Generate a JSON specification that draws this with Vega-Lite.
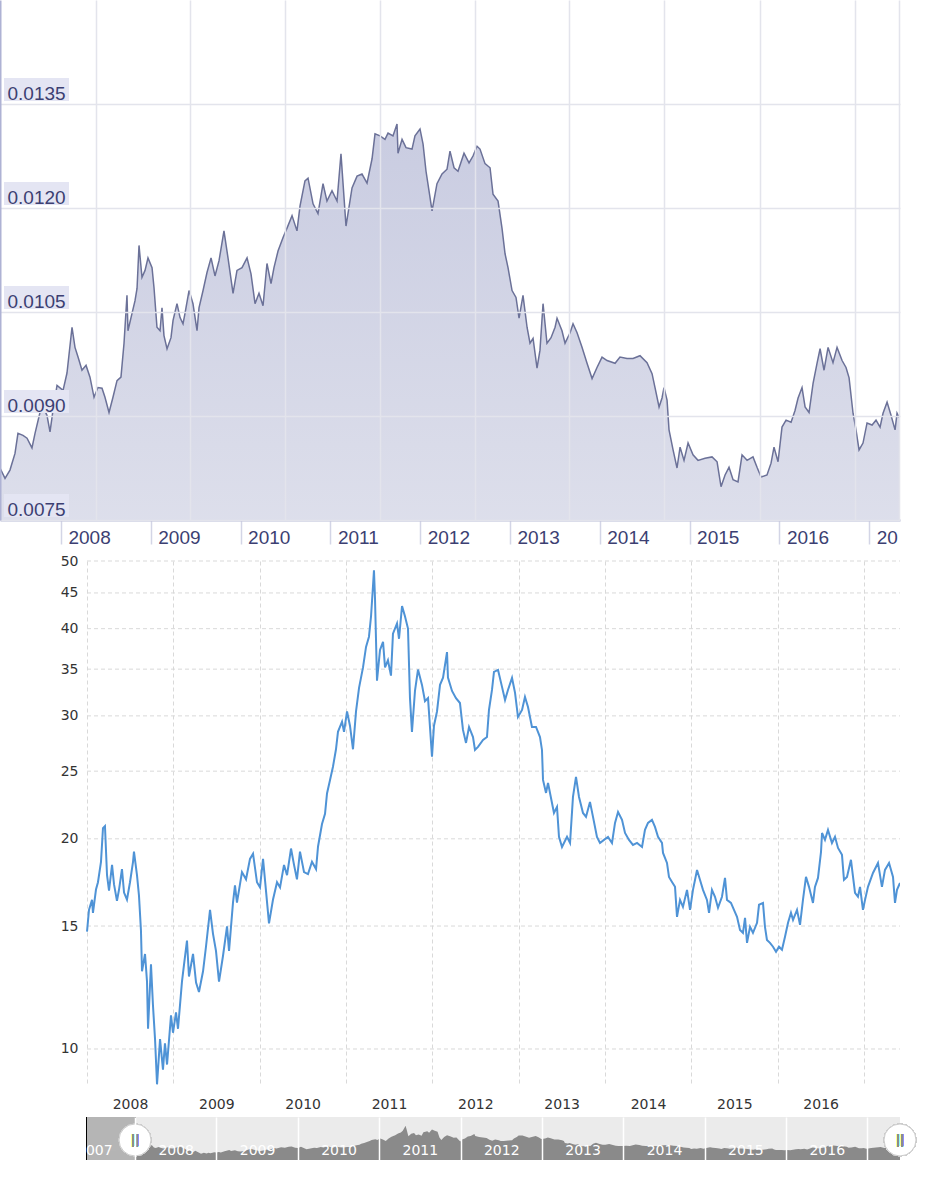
{
"$schema": "https://vega.github.io/schema/vega-lite/v6.json",
"padding": 0,
"background": "white",
"config": {"view": {"stroke": null}, "axis": {"labelFlush": false, "labelOverlap": false}},
"datasets": {
"jpy": [
{"year":2007.321,"rate":0.00825},{"year":2007.377,"rate":0.00810},{"year":2007.432,"rate":0.00822},{"year":2007.488,"rate":0.00846},{"year":2007.521,"rate":0.00875},{"year":2007.577,"rate":0.00872},{"year":2007.622,"rate":0.00868},{"year":2007.677,"rate":0.00854},{"year":2007.711,"rate":0.00875},{"year":2007.766,"rate":0.00905},{"year":2007.800,"rate":0.00913},{"year":2007.844,"rate":0.00901},{"year":2007.878,"rate":0.00877},{"year":2007.911,"rate":0.00908},{"year":2007.956,"rate":0.00944},{"year":2008.023,"rate":0.00937},{"year":2008.067,"rate":0.00962},{"year":2008.123,"rate":0.01028},{"year":2008.156,"rate":0.00999},{"year":2008.190,"rate":0.00985},{"year":2008.234,"rate":0.00966},{"year":2008.279,"rate":0.00973},{"year":2008.323,"rate":0.00956},{"year":2008.368,"rate":0.00927},{"year":2008.412,"rate":0.00941},{"year":2008.457,"rate":0.00940},{"year":2008.490,"rate":0.00927},{"year":2008.535,"rate":0.00905},{"year":2008.579,"rate":0.00927},{"year":2008.624,"rate":0.00951},{"year":2008.668,"rate":0.00956},{"year":2008.702,"rate":0.01005},{"year":2008.735,"rate":0.01074},{"year":2008.746,"rate":0.01023},{"year":2008.791,"rate":0.01048},{"year":2008.824,"rate":0.01066},{"year":2008.847,"rate":0.01084},{"year":2008.869,"rate":0.01146},{"year":2008.902,"rate":0.01100},{"year":2008.936,"rate":0.01110},{"year":2008.969,"rate":0.01128},{"year":2009.014,"rate":0.01114},{"year":2009.036,"rate":0.01085},{"year":2009.069,"rate":0.01028},{"year":2009.103,"rate":0.01023},{"year":2009.125,"rate":0.01056},{"year":2009.147,"rate":0.01016},{"year":2009.181,"rate":0.00997},{"year":2009.225,"rate":0.01013},{"year":2009.248,"rate":0.01038},{"year":2009.292,"rate":0.01062},{"year":2009.326,"rate":0.01042},{"year":2009.359,"rate":0.01033},{"year":2009.381,"rate":0.01048},{"year":2009.426,"rate":0.01081},{"year":2009.470,"rate":0.01062},{"year":2009.515,"rate":0.01023},{"year":2009.537,"rate":0.01056},{"year":2009.582,"rate":0.01081},{"year":2009.626,"rate":0.01107},{"year":2009.671,"rate":0.01128},{"year":2009.715,"rate":0.01102},{"year":2009.760,"rate":0.01124},{"year":2009.815,"rate":0.01167},{"year":2009.860,"rate":0.01128},{"year":2009.916,"rate":0.01077},{"year":2009.960,"rate":0.01110},{"year":2010.016,"rate":0.01114},{"year":2010.072,"rate":0.01128},{"year":2010.116,"rate":0.01105},{"year":2010.161,"rate":0.01062},{"year":2010.205,"rate":0.01077},{"year":2010.250,"rate":0.01059},{"year":2010.294,"rate":0.01120},{"year":2010.339,"rate":0.01091},{"year":2010.372,"rate":0.01114},{"year":2010.417,"rate":0.01138},{"year":2010.472,"rate":0.01157},{"year":2010.517,"rate":0.01171},{"year":2010.573,"rate":0.01189},{"year":2010.628,"rate":0.01167},{"year":2010.662,"rate":0.01203},{"year":2010.717,"rate":0.01239},{"year":2010.751,"rate":0.01243},{"year":2010.807,"rate":0.01206},{"year":2010.862,"rate":0.01192},{"year":2010.918,"rate":0.01235},{"year":2010.962,"rate":0.01210},{"year":2011.018,"rate":0.01225},{"year":2011.074,"rate":0.01210},{"year":2011.118,"rate":0.01278},{"year":2011.174,"rate":0.01174},{"year":2011.241,"rate":0.01229},{"year":2011.297,"rate":0.01246},{"year":2011.352,"rate":0.01249},{"year":2011.408,"rate":0.01236},{"year":2011.464,"rate":0.01271},{"year":2011.497,"rate":0.01307},{"year":2011.553,"rate":0.01304},{"year":2011.608,"rate":0.01299},{"year":2011.642,"rate":0.01308},{"year":2011.697,"rate":0.01304},{"year":2011.742,"rate":0.01321},{"year":2011.753,"rate":0.01279},{"year":2011.798,"rate":0.01299},{"year":2011.842,"rate":0.01287},{"year":2011.909,"rate":0.01285},{"year":2011.942,"rate":0.01304},{"year":2011.998,"rate":0.01314},{"year":2012.032,"rate":0.01292},{"year":2012.065,"rate":0.01253},{"year":2012.098,"rate":0.01225},{"year":2012.132,"rate":0.01196},{"year":2012.187,"rate":0.01235},{"year":2012.243,"rate":0.01249},{"year":2012.299,"rate":0.01256},{"year":2012.332,"rate":0.01282},{"year":2012.377,"rate":0.01258},{"year":2012.421,"rate":0.01253},{"year":2012.488,"rate":0.01279},{"year":2012.544,"rate":0.01265},{"year":2012.588,"rate":0.01275},{"year":2012.633,"rate":0.01289},{"year":2012.666,"rate":0.01285},{"year":2012.722,"rate":0.01264},{"year":2012.778,"rate":0.01258},{"year":2012.811,"rate":0.01220},{"year":2012.867,"rate":0.01210},{"year":2012.911,"rate":0.01171},{"year":2012.945,"rate":0.01134},{"year":2012.978,"rate":0.01114},{"year":2013.023,"rate":0.01081},{"year":2013.067,"rate":0.01071},{"year":2013.101,"rate":0.01041},{"year":2013.145,"rate":0.01074},{"year":2013.190,"rate":0.01028},{"year":2013.223,"rate":0.01005},{"year":2013.257,"rate":0.01012},{"year":2013.301,"rate":0.00969},{"year":2013.334,"rate":0.00995},{"year":2013.368,"rate":0.01062},{"year":2013.412,"rate":0.01005},{"year":2013.457,"rate":0.01013},{"year":2013.502,"rate":0.01028},{"year":2013.524,"rate":0.01041},{"year":2013.579,"rate":0.01023},{"year":2013.613,"rate":0.01005},{"year":2013.669,"rate":0.01020},{"year":2013.702,"rate":0.01033},{"year":2013.747,"rate":0.01020},{"year":2013.802,"rate":0.00999},{"year":2013.858,"rate":0.00976},{"year":2013.914,"rate":0.00954},{"year":2013.969,"rate":0.00970},{"year":2014.025,"rate":0.00985},{"year":2014.081,"rate":0.00980},{"year":2014.170,"rate":0.00976},{"year":2014.225,"rate":0.00985},{"year":2014.303,"rate":0.00983},{"year":2014.370,"rate":0.00983},{"year":2014.448,"rate":0.00987},{"year":2014.526,"rate":0.00977},{"year":2014.582,"rate":0.00961},{"year":2014.615,"rate":0.00941},{"year":2014.660,"rate":0.00913},{"year":2014.693,"rate":0.00926},{"year":2014.715,"rate":0.00941},{"year":2014.749,"rate":0.00923},{"year":2014.771,"rate":0.00880},{"year":2014.816,"rate":0.00851},{"year":2014.860,"rate":0.00825},{"year":2014.894,"rate":0.00855},{"year":2014.938,"rate":0.00836},{"year":2014.983,"rate":0.00861},{"year":2015.038,"rate":0.00844},{"year":2015.094,"rate":0.00836},{"year":2015.172,"rate":0.00839},{"year":2015.250,"rate":0.00841},{"year":2015.306,"rate":0.00834},{"year":2015.350,"rate":0.00798},{"year":2015.395,"rate":0.00815},{"year":2015.439,"rate":0.00826},{"year":2015.484,"rate":0.00808},{"year":2015.539,"rate":0.00805},{"year":2015.584,"rate":0.00844},{"year":2015.640,"rate":0.00836},{"year":2015.706,"rate":0.00841},{"year":2015.751,"rate":0.00826},{"year":2015.796,"rate":0.00812},{"year":2015.862,"rate":0.00815},{"year":2015.907,"rate":0.00832},{"year":2015.940,"rate":0.00855},{"year":2015.985,"rate":0.00834},{"year":2016.029,"rate":0.00884},{"year":2016.074,"rate":0.00894},{"year":2016.130,"rate":0.00891},{"year":2016.174,"rate":0.00908},{"year":2016.208,"rate":0.00926},{"year":2016.252,"rate":0.00941},{"year":2016.286,"rate":0.00913},{"year":2016.330,"rate":0.00905},{"year":2016.375,"rate":0.00947},{"year":2016.419,"rate":0.00976},{"year":2016.453,"rate":0.00997},{"year":2016.497,"rate":0.00966},{"year":2016.542,"rate":0.00999},{"year":2016.597,"rate":0.00977},{"year":2016.642,"rate":0.00999},{"year":2016.698,"rate":0.00980},{"year":2016.742,"rate":0.00970},{"year":2016.776,"rate":0.00955},{"year":2016.820,"rate":0.00904},{"year":2016.853,"rate":0.00880},{"year":2016.887,"rate":0.00851},{"year":2016.931,"rate":0.00861},{"year":2016.976,"rate":0.00890},{"year":2017.032,"rate":0.00887},{"year":2017.076,"rate":0.00894},{"year":2017.121,"rate":0.00884},{"year":2017.154,"rate":0.00904},{"year":2017.199,"rate":0.00920},{"year":2017.243,"rate":0.00901},{"year":2017.288,"rate":0.00880},{"year":2017.310,"rate":0.00904},{"year":2017.332,"rate":0.00898}
],
"silver": [
{"year":2007.41,"price":13.3},{"year":2007.47,"price":13.2},{"year":2007.53,"price":12.8},{"year":2007.58,"price":12.4},{"year":2007.62,"price":11.9},{"year":2007.66,"price":12.3},{"year":2007.72,"price":12.9},{"year":2007.78,"price":13.8},{"year":2007.84,"price":14.6},{"year":2007.86,"price":15.2},{"year":2007.90,"price":14.5},{"year":2007.95,"price":14.3},{"year":2007.98,"price":14.8},
{"year":2008.000,"price":14.73},{"year":2008.023,"price":15.82},{"year":2008.058,"price":16.36},{"year":2008.069,"price":15.66},{"year":2008.104,"price":16.92},{"year":2008.127,"price":17.33},{"year":2008.162,"price":18.54},{"year":2008.185,"price":20.72},{"year":2008.208,"price":20.86},{"year":2008.232,"price":17.74},{"year":2008.255,"price":16.86},{"year":2008.290,"price":18.35},{"year":2008.313,"price":17.21},{"year":2008.347,"price":16.30},{"year":2008.371,"price":16.92},{"year":2008.405,"price":18.10},{"year":2008.429,"price":16.75},{"year":2008.463,"price":16.36},{"year":2008.498,"price":17.33},{"year":2008.533,"price":18.54},{"year":2008.544,"price":19.17},{"year":2008.579,"price":17.74},{"year":2008.602,"price":16.58},{"year":2008.625,"price":14.78},{"year":2008.637,"price":12.92},{"year":2008.672,"price":13.68},{"year":2008.695,"price":12.49},{"year":2008.707,"price":10.69},{"year":2008.741,"price":13.22},{"year":2008.764,"price":11.55},{"year":2008.788,"price":10.33},{"year":2008.811,"price":8.90},{"year":2008.846,"price":10.33},{"year":2008.880,"price":9.34},{"year":2008.903,"price":10.19},{"year":2008.927,"price":9.50},{"year":2008.973,"price":11.17},{"year":2008.996,"price":10.55},{"year":2009.031,"price":11.28},{"year":2009.054,"price":10.69},{"year":2009.100,"price":12.49},{"year":2009.124,"price":13.22},{"year":2009.158,"price":14.30},{"year":2009.181,"price":12.70},{"year":2009.228,"price":13.68},{"year":2009.263,"price":12.45},{"year":2009.297,"price":12.07},{"year":2009.344,"price":12.92},{"year":2009.378,"price":14.01},{"year":2009.425,"price":15.82},{"year":2009.459,"price":14.63},{"year":2009.494,"price":13.82},{"year":2009.529,"price":12.49},{"year":2009.575,"price":13.59},{"year":2009.622,"price":14.98},{"year":2009.645,"price":13.82},{"year":2009.691,"price":16.20},{"year":2009.714,"price":17.15},{"year":2009.737,"price":16.20},{"year":2009.795,"price":17.92},{"year":2009.842,"price":17.50},{"year":2009.888,"price":18.72},{"year":2009.923,"price":19.04},{"year":2009.969,"price":17.33},{"year":2010.004,"price":17.04},{"year":2010.039,"price":18.72},{"year":2010.073,"price":16.86},{"year":2010.108,"price":15.13},{"year":2010.154,"price":16.36},{"year":2010.201,"price":17.33},{"year":2010.236,"price":17.04},{"year":2010.282,"price":18.35},{"year":2010.317,"price":17.74},{"year":2010.363,"price":19.37},{"year":2010.398,"price":18.35},{"year":2010.432,"price":17.50},{"year":2010.467,"price":19.17},{"year":2010.514,"price":17.92},{"year":2010.560,"price":17.80},{"year":2010.606,"price":18.54},{"year":2010.653,"price":18.10},{"year":2010.676,"price":19.50},{"year":2010.722,"price":21.00},{"year":2010.757,"price":21.72},{"year":2010.780,"price":23.23},{"year":2010.815,"price":24.28},{"year":2010.849,"price":25.37},{"year":2010.884,"price":26.87},{"year":2010.907,"price":28.46},{"year":2010.954,"price":29.43},{"year":2010.977,"price":28.46},{"year":2011.012,"price":30.44},{"year":2011.046,"price":29.04},{"year":2011.081,"price":26.87},{"year":2011.116,"price":30.44},{"year":2011.151,"price":32.90},{"year":2011.197,"price":35.20},{"year":2011.232,"price":37.66},{"year":2011.266,"price":38.95},{"year":2011.290,"price":41.67},{"year":2011.313,"price":46.11},{"year":2011.324,"price":48.50},{"year":2011.336,"price":44.13},{"year":2011.359,"price":33.69},{"year":2011.394,"price":37.28},{"year":2011.429,"price":38.30},{"year":2011.452,"price":35.20},{"year":2011.486,"price":36.04},{"year":2011.521,"price":34.26},{"year":2011.544,"price":39.35},{"year":2011.591,"price":40.69},{"year":2011.614,"price":38.69},{"year":2011.649,"price":43.10},{"year":2011.683,"price":41.67},{"year":2011.718,"price":40.01},{"year":2011.741,"price":31.81},{"year":2011.764,"price":28.46},{"year":2011.799,"price":32.57},{"year":2011.834,"price":34.95},{"year":2011.880,"price":33.23},{"year":2011.915,"price":31.49},{"year":2011.950,"price":31.81},{"year":2011.996,"price":26.23},{"year":2012.019,"price":29.04},{"year":2012.054,"price":30.44},{"year":2012.089,"price":33.23},{"year":2012.124,"price":34.03},{"year":2012.170,"price":37.03},{"year":2012.181,"price":34.03},{"year":2012.228,"price":32.57},{"year":2012.274,"price":31.81},{"year":2012.320,"price":31.30},{"year":2012.355,"price":28.64},{"year":2012.390,"price":27.44},{"year":2012.425,"price":28.92},{"year":2012.471,"price":27.98},{"year":2012.494,"price":26.81},{"year":2012.529,"price":27.08},{"year":2012.587,"price":27.71},{"year":2012.633,"price":27.98},{"year":2012.656,"price":30.59},{"year":2012.691,"price":32.68},{"year":2012.714,"price":34.68},{"year":2012.761,"price":34.91},{"year":2012.807,"price":33.01},{"year":2012.842,"price":31.62},{"year":2012.876,"price":32.68},{"year":2012.923,"price":34.00},{"year":2012.958,"price":32.36},{"year":2012.992,"price":29.89},{"year":2013.039,"price":30.59},{"year":2013.073,"price":31.93},{"year":2013.108,"price":30.89},{"year":2013.154,"price":28.92},{"year":2013.201,"price":28.92},{"year":2013.247,"price":27.98},{"year":2013.270,"price":26.81},{"year":2013.282,"price":24.29},{"year":2013.317,"price":23.27},{"year":2013.340,"price":24.05},{"year":2013.386,"price":22.51},{"year":2013.409,"price":21.78},{"year":2013.444,"price":22.22},{"year":2013.467,"price":20.13},{"year":2013.502,"price":19.47},{"year":2013.560,"price":20.13},{"year":2013.595,"price":19.73},{"year":2013.629,"price":22.96},{"year":2013.664,"price":24.53},{"year":2013.699,"price":22.96},{"year":2013.745,"price":21.78},{"year":2013.780,"price":21.50},{"year":2013.826,"price":22.59},{"year":2013.861,"price":21.50},{"year":2013.907,"price":20.13},{"year":2013.942,"price":19.73},{"year":2013.988,"price":19.93},{"year":2014.035,"price":20.13},{"year":2014.081,"price":19.73},{"year":2014.116,"price":21.08},{"year":2014.151,"price":21.85},{"year":2014.197,"price":21.29},{"year":2014.232,"price":20.39},{"year":2014.278,"price":19.93},{"year":2014.324,"price":19.60},{"year":2014.371,"price":19.73},{"year":2014.429,"price":19.47},{"year":2014.463,"price":20.60},{"year":2014.498,"price":21.08},{"year":2014.544,"price":21.29},{"year":2014.579,"price":20.80},{"year":2014.614,"price":20.13},{"year":2014.660,"price":19.73},{"year":2014.672,"price":19.09},{"year":2014.718,"price":18.47},{"year":2014.741,"price":17.64},{"year":2014.776,"price":17.35},{"year":2014.811,"price":17.07},{"year":2014.834,"price":15.46},{"year":2014.869,"price":16.35},{"year":2014.903,"price":15.98},{"year":2014.950,"price":16.90},{"year":2014.985,"price":15.82},{"year":2015.019,"price":16.90},{"year":2015.066,"price":18.05},{"year":2015.100,"price":17.47},{"year":2015.135,"price":16.90},{"year":2015.181,"price":16.35},{"year":2015.205,"price":15.67},{"year":2015.239,"price":16.90},{"year":2015.274,"price":16.52},{"year":2015.309,"price":15.93},{"year":2015.355,"price":16.52},{"year":2015.390,"price":17.58},{"year":2015.413,"price":16.35},{"year":2015.459,"price":16.19},{"year":2015.494,"price":15.82},{"year":2015.529,"price":15.46},{"year":2015.564,"price":14.81},{"year":2015.598,"price":14.67},{"year":2015.622,"price":15.41},{"year":2015.645,"price":14.19},{"year":2015.680,"price":14.96},{"year":2015.714,"price":14.67},{"year":2015.761,"price":15.16},{"year":2015.784,"price":16.09},{"year":2015.830,"price":16.19},{"year":2015.853,"price":14.96},{"year":2015.876,"price":14.33},{"year":2015.911,"price":14.19},{"year":2015.946,"price":14.01},{"year":2015.981,"price":13.78},{"year":2016.015,"price":14.01},{"year":2016.050,"price":13.87},{"year":2016.085,"price":14.48},{"year":2016.120,"price":15.16},{"year":2016.154,"price":15.67},{"year":2016.178,"price":15.31},{"year":2016.224,"price":15.82},{"year":2016.259,"price":15.06},{"year":2016.293,"price":16.35},{"year":2016.328,"price":17.64},{"year":2016.363,"price":17.07},{"year":2016.409,"price":16.19},{"year":2016.432,"price":17.07},{"year":2016.467,"price":17.58},{"year":2016.502,"price":19.15},{"year":2016.514,"price":20.39},{"year":2016.548,"price":19.93},{"year":2016.583,"price":20.60},{"year":2016.629,"price":19.73},{"year":2016.664,"price":20.13},{"year":2016.699,"price":19.41},{"year":2016.745,"price":18.97},{"year":2016.768,"price":17.47},{"year":2016.803,"price":17.64},{"year":2016.849,"price":18.66},{"year":2016.873,"price":17.64},{"year":2016.896,"price":16.73},{"year":2016.930,"price":16.52},{"year":2016.954,"price":17.07},{"year":2016.988,"price":15.82},{"year":2017.012,"price":16.35},{"year":2017.046,"price":17.07},{"year":2017.104,"price":17.87},{"year":2017.162,"price":18.47},{"year":2017.208,"price":17.07},{"year":2017.243,"price":18.05},{"year":2017.290,"price":18.47},{"year":2017.336,"price":17.64},{"year":2017.359,"price":16.19},{"year":2017.382,"price":16.90},{"year":2017.417,"price":17.29}
],
"ticks": [{"tick":0.0075},{"tick":0.009},{"tick":0.0105},{"tick":0.012},{"tick":0.0135}],
"silverTicks": [{"level":10},{"level":15},{"level":20},{"level":25},{"level":30},{"level":35},{"level":40},{"level":45},{"level":50}]
},
"vconcat": [
{
 "width": 900, "height": 520,
 "data": {"name": "jpy"},
 "resolve": {"axis": {"x": "independent"}},
 "layer": [
  {
   "mark": {"type": "area", "clip": true, "fill": {"gradient": "linear", "x1": 0, "y1": 0, "x2": 0, "y2": 1, "stops": [{"offset": 0, "color": "#c9cce1"}, {"offset": 0.35, "color": "#d9dbe9"}, {"offset": 0.7, "color": "#e9eaf2"}, {"offset": 1, "color": "#f8f8fb"}]}},
   "encoding": {
    "x": {"field": "year", "type": "quantitative", "scale": {"domain": [2007.321, 2017.343], "nice": false, "zero": false},
      "axis": {"orient": "bottom", "values": [2008,2009,2010,2011,2012,2013,2014,2015,2016,2017], "grid": false, "title": null,
        "labelExpr": "datum.value == 2017 ? '20' : format(datum.value, 'd')",
        "labelAlign": "left", "labelOffset": 7, "labelPadding": -1, "labelBaseline": "alphabetic",
        "tickSize": 24, "tickColor": "#d3d5e6", "tickWidth": 1.5,
        "domainColor": "#b3b7d6", "domainWidth": 2,
        "labelColor": "#3c3f72", "labelFont": "Liberation Sans", "labelFontSize": 19}},
    "y": {"field": "rate", "type": "quantitative", "scale": {"domain": [0.0075, 0.015], "nice": false, "zero": false},
      "axis": {"values": [0.0075, 0.009, 0.0105, 0.012, 0.0135], "format": ".4f", "title": null,
        "grid": true, "gridColor": "#e3e4ec", "gridWidth": 1.5, "ticks": false, "tickSize": 0,
        "labelAlign": "left", "labelPadding": -7, "labelBaseline": "alphabetic", "labelOffset": -5,
        "domainColor": "#aeb2d4", "domainWidth": 2, "zindex": 1,
        "labelColor": "#3c3f72", "labelFont": "Liberation Sans", "labelFontSize": 19,
        "minExtent": 0, "maxExtent": 0}}
   }
  },
  {
   "mark": {"type": "line", "stroke": "#6b7198", "strokeWidth": 1.5, "clip": true},
   "encoding": {
    "x": {"field": "year", "type": "quantitative",
      "axis": {"orient": "bottom", "values": [2008.387, 2009.440, 2010.498, 2011.553, 2012.611, 2013.661, 2014.719, 2015.784, 2016.842, 2017.336],
        "grid": true, "gridColor": "#e3e4ec", "gridWidth": 1.5, "labels": false, "ticks": false, "domain": false, "title": null, "zindex": 1}},
    "y": {"field": "rate", "type": "quantitative"}
   }
  },
  {
   "data": {"name": "ticks"},
   "mark": {"type": "point", "shape": "M0.4,-2.6L6.9,-2.6L6.9,-0.3L0.4,-0.3Z", "size": 400, "filled": true, "fill": "#e4e5f3", "opacity": 1, "strokeWidth": 0},
   "encoding": {
    "x": {"datum": 2007.321, "type": "quantitative", "axis": null},
    "y": {"field": "tick", "type": "quantitative", "title": null}
   }
  }
 ]
},
{
 "vconcat": [
  {
   "width": 900, "height": 524,
   "layer": [
    {
     "data": {"name": "silverTicks"},
     "mark": {"type": "rule", "color": "#d9d9d9", "strokeWidth": 1, "strokeDash": [4, 3]},
     "encoding": {
      "x": {"datum": 2008, "type": "quantitative"},
      "x2": {"datum": 2017.417},
      "y": {"field": "level", "type": "quantitative", "title": null}
     }
    },
    {
     "data": {"name": "silver"},
     "transform": [{"filter": "datum.year >= 2008"}],
     "mark": {"type": "line", "color": "#4f93d6", "strokeWidth": 2, "clip": true},
     "encoding": {
      "x": {"field": "year", "type": "quantitative", "scale": {"domain": [2006.9922, 2017.417], "nice": false, "zero": false},
        "axis": {"values": [2008,2009,2010,2011,2012,2013,2014,2015,2016,2017], "title": null,
          "labelExpr": "datum.value < 2017 ? format(datum.value, 'd') : ''",
          "labelOffset": 43, "grid": true, "gridDash": [4,3], "gridColor": "#d9d9d9", "gridWidth": 1,
          "ticks": false, "tickSize": 0, "domain": false, "labelPadding": 23, "labelBaseline": "alphabetic",
          "labelFont": "DejaVu Sans", "labelFontSize": 14, "labelColor": "#333333"}},
      "y": {"field": "price", "type": "quantitative", "scale": {"type": "log", "domain": [8.88, 50], "nice": false},
        "axis": {"values": [10,15,20,25,30,35,40,45,50], "format": "d", "title": null,
          "grid": false, "ticks": false, "tickSize": 0, "domain": false,
          "labelAlign": "right", "labelPadding": -78,
          "labelFont": "DejaVu Sans", "labelFontSize": 14, "labelColor": "#333333", "minExtent": 0, "maxExtent": 0}}
     }
    }
   ]
  },
  {
   "width": 900, "height": 43,
   "data": {"name": "silver"},
   "layer": [
    {
     "mark": {"type": "rect", "color": "#ebebeb"},
     "encoding": {"x": {"datum": 2007.41, "type": "quantitative"}, "x2": {"datum": 2017.40}}
    },
    {
     "mark": {"type": "area", "color": "#8a8a8a", "clip": true},
     "encoding": {
      "x": {"field": "year", "type": "quantitative", "scale": {"domain": [2006.341, 2017.40], "nice": false, "zero": false},
        "axis": {"values": [2007,2008,2009,2010,2011,2012,2013,2014,2015,2016,2017], "title": null,
          "labelExpr": "datum.value < 2017 ? format(datum.value, 'd') : ''",
          "labelOffset": 40.7, "labelPadding": -6, "labelBaseline": "alphabetic",
          "grid": true, "gridColor": "#ffffff", "gridWidth": 1.5, "ticks": false, "tickSize": 0, "domain": false,
          "labelFont": "DejaVu Sans", "labelFontSize": 14, "labelColor": "#ffffff", "zindex": 1}},
      "y": {"field": "price", "type": "quantitative", "scale": {"domain": [0, 61], "nice": false}, "axis": null}
     }
    },
    {
     "mark": {"type": "rect", "color": "#b4b4b4", "opacity": 0.55},
     "encoding": {"x": {"datum": 2007.41, "type": "quantitative"}, "x2": {"datum": 2008}}
    },
    {
     "mark": {"type": "point", "shape": "circle", "size": 1024, "filled": true, "fill": "#ffffff", "stroke": "#cccccc", "strokeWidth": 1, "opacity": 1},
     "encoding": {"x": {"datum": 2008, "type": "quantitative"}, "y": {"datum": 28.4, "type": "quantitative"}}
    },
    {
     "mark": {"type": "text", "text": "||", "fontSize": 13, "color": "#8c8c8c", "font": "DejaVu Sans"},
     "encoding": {"x": {"datum": 2008, "type": "quantitative"}, "y": {"datum": 28.4, "type": "quantitative"}}
    },
    {
     "mark": {"type": "point", "shape": "circle", "size": 1024, "filled": true, "fill": "#ffffff", "stroke": "#cccccc", "strokeWidth": 1, "opacity": 1},
     "encoding": {"x": {"datum": 2017.40, "type": "quantitative"}, "y": {"datum": 28.4, "type": "quantitative"}}
    },
    {
     "mark": {"type": "text", "text": "||", "fontSize": 13, "color": "#8c8c8c", "font": "DejaVu Sans"},
     "encoding": {"x": {"datum": 2017.40, "type": "quantitative"}, "y": {"datum": 28.4, "type": "quantitative"}}
    }
   ]
  }
 ],
 "spacing": 6
}
],
"spacing": 7
}
